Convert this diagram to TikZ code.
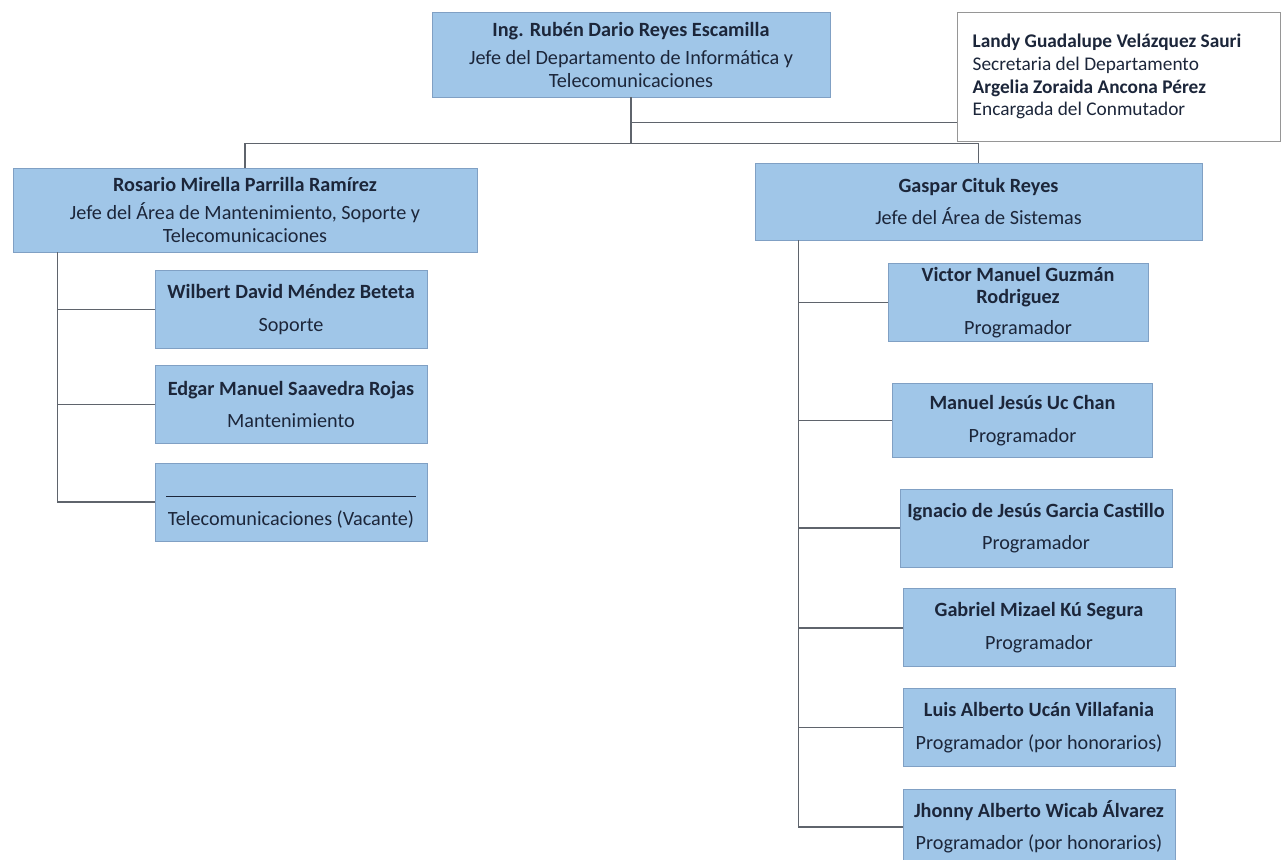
\documentclass[tikz,border=0pt]{standalone}
\usepackage{fontspec}
\setmainfont{Carlito}
\usetikzlibrary{positioning}
\definecolor{boxFill}{RGB}{160,198,232}
\definecolor{boxEdge}{RGB}{128,160,196}
\definecolor{ink}{RGB}{28,38,58}
\definecolor{linkGray}{RGB}{95,100,108}
\definecolor{noteEdge}{RGB}{150,150,150}
\tikzset{
  orgbox/.style={draw=boxEdge, fill=boxFill, align=center, text=ink, font=\fontsize{11.5}{12.5}\selectfont, inner xsep=2pt, inner ysep=1pt},
  headbox/.style={orgbox, minimum width=9.28cm, minimum height=1.68cm},
  staffbox/.style={orgbox, minimum width=5.44cm, minimum height=1.56cm},
  notebox/.style={draw=noteEdge, fill=white, align=flush left, text=ink, font=\fontsize{11}{13}\selectfont, text width=5.86cm, minimum height=2.58cm, inner xsep=0.3cm},
  link/.style={draw=linkGray, line width=0.9pt}
}
\begin{document}
\begin{tikzpicture}
        \useasboundingbox (0,0) rectangle (25.74,-17.2);
        \node[headbox, minimum width=7.96cm, minimum height=1.7cm, font=\fontsize{11.5}{13}\selectfont] (jefe) at (12.62,-1.09) {\textbf{Ing. Rubén Dario Reyes Escamilla}\\[3pt]Jefe del Departamento de Informática y\\Telecomunicaciones};
        \node[notebox, right=2.54cm of jefe.north east, anchor=north west] (sec) {\textbf{Landy Guadalupe Velázquez Sauri}\\Secretaria del Departamento\\\textbf{Argelia Zoraida Ancona Pérez}\\Encargada del Conmutador};
        \node[headbox, font=\fontsize{11.5}{13}\selectfont] (rosario) at (4.90,-4.20) {\textbf{Rosario Mirella Parrilla Ramírez}\\[3pt]Jefe del Área de Mantenimiento, Soporte y\\Telecomunicaciones};
        \node[headbox, minimum width=8.94cm, minimum height=1.54cm] (gaspar) at (19.57,-4.03) {\textbf{Gaspar Cituk Reyes}\\[6pt]Jefe del Área de Sistemas};
        % left column
        \node[staffbox, below right=0.36cm and 2.84cm of rosario.south west] (wilbert) {\textbf{Wilbert David Méndez Beteta}\\[6pt]Soporte};
        \node[staffbox, below=0.32cm of wilbert] (edgar) {\textbf{Edgar Manuel Saavedra Rojas}\\[6pt]Mantenimiento};
        \node[staffbox, below=0.38cm of edgar] (vacante) {\rule{0pt}{12pt}\rule{5cm}{0.5pt}\\[4pt]Telecomunicaciones (Vacante)};
        % right column
        \node[staffbox, minimum width=5.2cm, below right=0.46cm and 2.66cm of gaspar.south west] (victor) {\textbf{Victor Manuel Guzmán}\\\textbf{Rodriguez}\\[5pt]Programador};
        \node[staffbox, minimum width=5.2cm, minimum height=1.48cm, below=0.82cm of victor, xshift=0.09cm] (manuel) {\textbf{Manuel Jesús Uc Chan}\\[6pt]Programador};
        \node[staffbox, below=0.62cm of manuel, xshift=0.27cm] (ignacio) {\textbf{Ignacio de Jesús Garcia Castillo}\\[6pt]Programador};
        \node[staffbox, below=0.42cm of ignacio, xshift=0.06cm] (gabriel) {\textbf{Gabriel Mizael Kú Segura}\\[6pt]Programador};
        \node[staffbox, below=0.42cm of gabriel] (luis) {\textbf{Luis Alberto Ucán Villafania}\\[6pt]Programador (por honorarios)};
        \node[staffbox, minimum height=1.5cm, below=0.44cm of luis] (jhonny) {\textbf{Jhonny Alberto Wicab Álvarez}\\[6pt]Programador (por honorarios)};
        \coordinate[below=0.92cm of jefe.south] (bus);
        \coordinate[below=0.5cm of jefe.south] (notejoin);
        \coordinate[right=0.9cm of rosario.south west] (ltrunk);
        \coordinate[right=0.88cm of gaspar.south west] (rtrunk);
        \draw[link] (jefe) -- (bus);
        \draw[link] (notejoin) -- (notejoin -| sec.west);
        \draw[link] (bus) -| (rosario);
        \draw[link] (bus) -| (gaspar);
        \draw[link] (ltrunk) |- (wilbert.west);
        \draw[link] (ltrunk) |- (edgar.west);
        \draw[link] (ltrunk) |- (vacante.west);
        \draw[link] (rtrunk) |- (victor.west);
        \draw[link] (rtrunk) |- (manuel.west);
        \draw[link] (rtrunk) |- (ignacio.west);
        \draw[link] (rtrunk) |- (gabriel.west);
        \draw[link] (rtrunk) |- (luis.west);
        \draw[link] (rtrunk) |- (jhonny.west);
      \end{tikzpicture}
\end{document}
